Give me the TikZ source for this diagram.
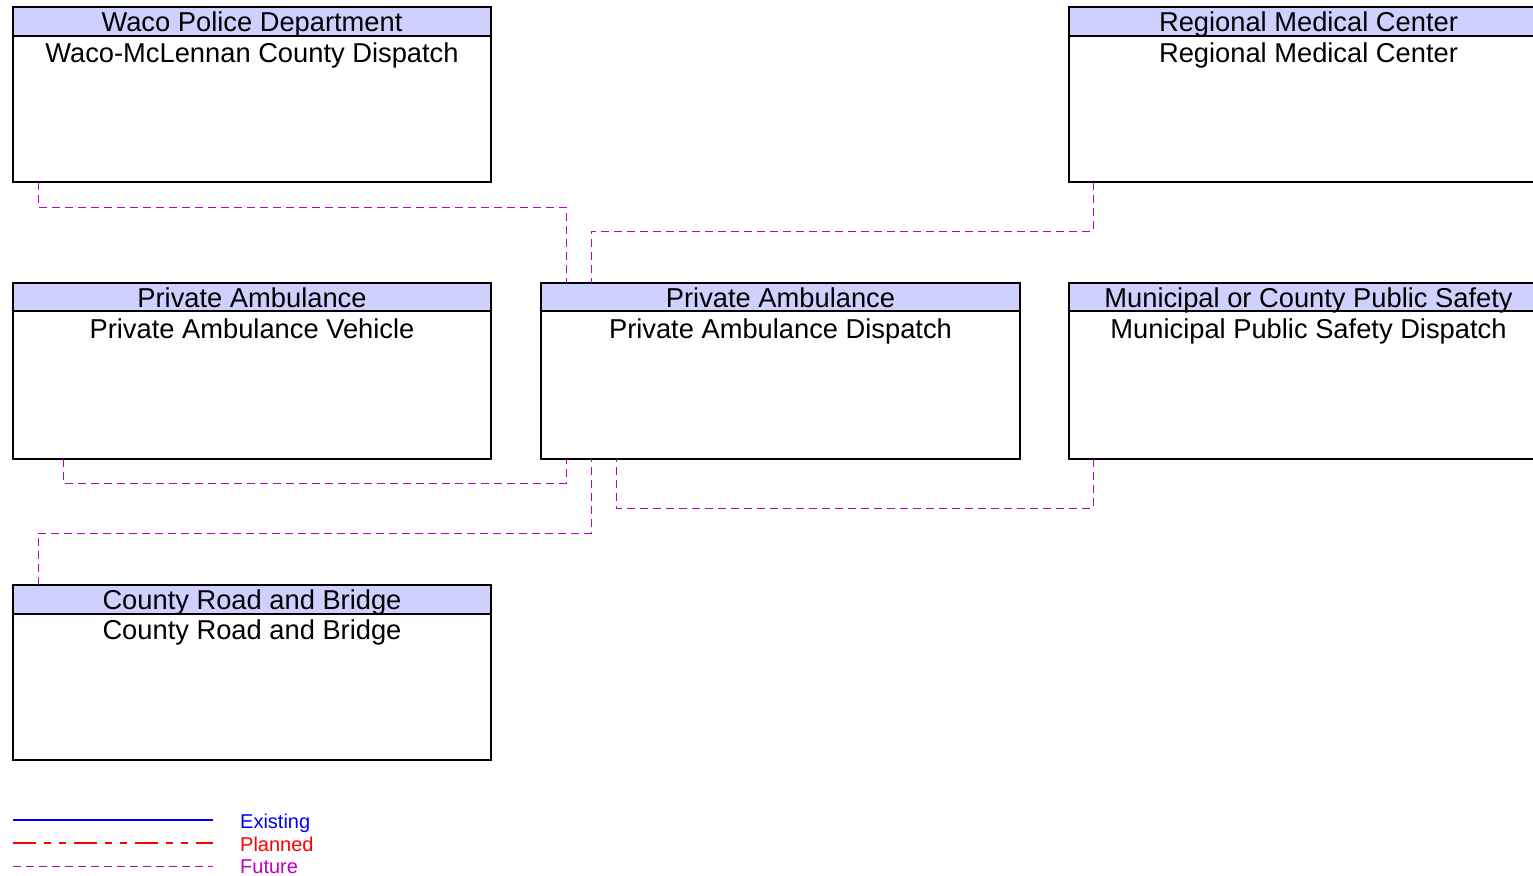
\documentclass[tikz,border=0pt]{standalone}
\usepackage{fontspec}
\setmainfont{Liberation Sans}
\usetikzlibrary{calc}
\definecolor{hdr}{RGB}{208,208,255}
\definecolor{fut}{RGB}{192,0,192}
\definecolor{exi}{RGB}{0,0,255}
\definecolor{pla}{RGB}{255,0,0}
\begin{document}
\begin{tikzpicture}[x=1pt,y=-1pt,
  body/.style={draw=black,line width=1.3pt,fill=white,rectangle,anchor=north west,
    minimum width=478pt,minimum height=175pt,inner sep=0pt,outer sep=0pt},
  head/.style={draw=black,line width=1.3pt,fill=hdr,rectangle,anchor=north west,
    minimum width=478pt,minimum height=29pt,inner sep=0pt,outer sep=0pt},
  txt/.style={anchor=base,inner sep=0pt,font=\fontsize{27.3pt}{30pt}\selectfont},
  legtxt/.style={anchor=base west,inner sep=0pt,font=\fontsize{20pt}{24pt}\selectfont},
  future/.style={draw=fut,line width=1pt,dash pattern=on 8pt off 5pt},
]
\useasboundingbox (0,0) rectangle (1533,875);
\clip (0,0) rectangle (1533,875);
\fill[white] (0,0) rectangle (1533,875);

% boxes
\node[body] (waco) at (13,7) {};
\node[head] (wacoH) at (13,7) {};
\node[txt] (wacoT1) at (252,31.5) {Waco Police Department};
\node[txt] (wacoT2) at (252,63) {Waco-McLennan County Dispatch};

\node[body] (rmc) at (1069,7) {};
\node[head] (rmcH) at (1069,7) {};
\node[txt] (rmcT1) at (1308.5,31.5) {Regional Medical Center};
\node[txt] (rmcT2) at (1308.5,63) {Regional Medical Center};

\node[body,minimum height=176pt] (pav) at (13,283) {};
\node[head,minimum height=28pt] (pavH) at (13,283) {};
\node[txt] (pavT1) at (252,307.5) {Private Ambulance};
\node[txt] (pavT2) at (252,338) {Private Ambulance Vehicle};

\node[body,minimum width=479pt,minimum height=176pt] (pad) at (541,283) {};
\node[head,minimum width=479pt,minimum height=28pt] (padH) at (541,283) {};
\node[txt] (padT1) at (780.5,307.5) {Private Ambulance};
\node[txt] (padT2) at (780.5,338) {Private Ambulance Dispatch};

\node[body,minimum height=176pt] (mun) at (1069,283) {};
\node[head,minimum height=28pt] (munH) at (1069,283) {};
\node[txt] (munT1) at (1308.5,307.5) {Municipal or County Public Safety};
\node[txt] (munT2) at (1308.5,338) {Municipal Public Safety Dispatch};

\node[body] (crb) at (13,585) {};
\node[head] (crbH) at (13,585) {};
\node[txt] (crbT1) at (252,609.5) {County Road and Bridge};
\node[txt] (crbT2) at (252,639) {County Road and Bridge};

% connectors
\draw[future] ($(waco.south west)+(25,0)$) |- ($(pad.north west)+(25,-76)$) -- ($(pad.north west)+(25,0)$);
\draw[future] ($(rmc.south west)+(24,0)$) |- ($(pad.north west)+(50,-52)$) -- ($(pad.north west)+(50,0)$);
\draw[future] ($(pav.south west)+(50,0)$) |- ($(pad.south west)+(25,24)$) -- ($(pad.south west)+(25,0)$);
\draw[future] ($(mun.south west)+(24,0)$) |- ($(pad.south west)+(75,49)$) -- ($(pad.south west)+(75,0)$);
\draw[future] ($(crb.north west)+(25,0)$) |- ($(pad.south west)+(50,74)$) -- ($(pad.south west)+(50,0)$);

% legend
\coordinate (e1) at (13,820); \coordinate (e2) at (213,820);
\coordinate (p1) at (13,843); \coordinate (p2) at (213,843);
\coordinate (f1) at (13,866); \coordinate (f2) at (213,866);
\draw[exi,line width=1.6pt] (e1) -- (e2);
\draw[pla,line width=1.3pt,dash pattern=on 23pt off 8pt on 7pt off 8pt on 7pt off 8pt] (p1) -- (p2);
\draw[fut,line width=1pt,dash pattern=on 8pt off 5pt] (f1) -- (f2);
\node[legtxt,text=exi] (lE) at (240,828) {Existing};
\node[legtxt,text=pla] (lP) at (240,851) {Planned};
\node[legtxt,text=fut] (lF) at (240,873) {Future};
\end{tikzpicture}
\end{document}
